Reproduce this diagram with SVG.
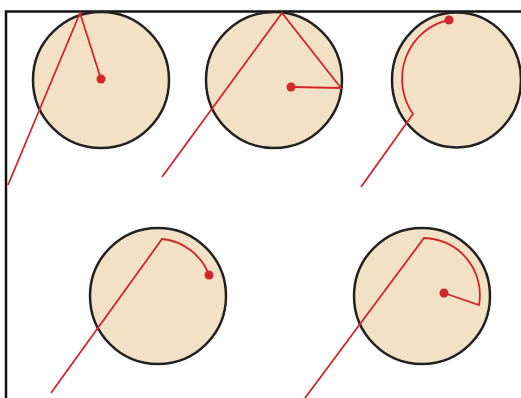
<svg xmlns="http://www.w3.org/2000/svg" width="521" height="398" viewBox="0 0 521 398">
<style>
.disc{fill:#f2e1c4;stroke:#222;stroke-width:2.5}
.red{fill:none;stroke:#d1262a;stroke-width:1.8;stroke-linejoin:miter}
.dot{fill:#d1262a}
.frame{fill:none;stroke:#111;stroke-width:2.5}
</style>
<rect width="521" height="398" fill="#fff"/>
<path class="frame" d="M6,398 V11.5 H521"/>
<g id="node1">
<circle class="disc" cx="101" cy="80" r="68"/>
</g>
<g id="node2">
<circle class="disc" cx="274" cy="80" r="68"/>
</g>
<g id="node3">
<ellipse class="disc" cx="456.5" cy="80" rx="64.5" ry="67.5"/>
</g>
<g id="node4">
<circle class="disc" cx="158" cy="296" r="68"/>
</g>
<g id="node5">
<circle class="disc" cx="422" cy="296" r="68"/>
</g>
<g id="connectors">
<path class="red" d="M8,185 L80,13 L101,79"/>
<circle class="dot" cx="101" cy="79" r="4.5"/>
<path class="red" d="M162,177 L282,13 L341,88 L291,87"/>
<circle class="dot" cx="291" cy="87" r="4.5"/>
<path class="red" d="M361,187 L413,114 A58,60 0 0 1 449,20"/>
<circle class="dot" cx="449" cy="20" r="4.5"/>
<path class="red" d="M51,393 L162,239 A56,56 0 0 1 209,275"/>
<circle class="dot" cx="209" cy="275" r="4.5"/>
<path class="red" d="M305,398 L424,238 A57,57 0 0 1 479,305 L444,293"/>
<circle class="dot" cx="444" cy="293" r="4.5"/>
</g>
</svg>
